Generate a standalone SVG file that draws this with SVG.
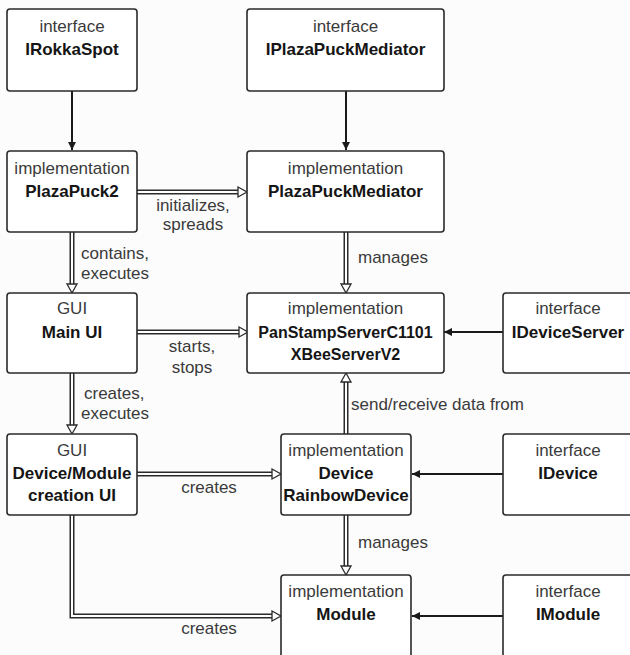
<svg xmlns="http://www.w3.org/2000/svg" width="630" height="655" viewBox="0 0 630 655">
<style>
.box{fill:#fff;stroke:#2a2a2a;stroke-width:1.6}
.t{font-family:"Liberation Sans",Arial,sans-serif;font-size:17px;fill:#3a3a3a;text-anchor:middle}
.b{font-family:"Liberation Sans",Arial,sans-serif;font-size:17px;font-weight:bold;fill:#151515;text-anchor:middle}
.l{font-family:"Liberation Sans",Arial,sans-serif;font-size:17px;fill:#3a3a3a}
.lc{text-anchor:middle}
.outer{fill:none;stroke:#2a2a2a;stroke-width:5}
.inner{fill:none;stroke:#fff;stroke-width:2}
.solid{fill:none;stroke:#1a1a1a;stroke-width:2}
</style>
<defs>
<marker id="hollow" markerUnits="userSpaceOnUse" markerWidth="12" markerHeight="14" viewBox="0 0 12 14" refX="1" refY="7" orient="auto">
<path d="M1,2 L10,7 L1,12 Z" fill="#fff" stroke="#2a2a2a" stroke-width="1.3"/>
</marker>
<marker id="solidhead" markerUnits="userSpaceOnUse" markerWidth="9" markerHeight="9" viewBox="0 0 9 9" refX="8" refY="4.5" orient="auto">
<path d="M0,0.5 L8,4.5 L0,8.5 Z" fill="#1a1a1a"/>
</marker>
</defs>
<rect width="630" height="655" fill="#fcfcfc"/>

<g id="connectors">
<!-- solid interface arrows -->
<path class="solid" d="M72,91 V150" marker-end="url(#solidhead)"/>
<path class="solid" d="M346,91 V150" marker-end="url(#solidhead)"/>
<path class="solid" d="M503,332 H444" marker-end="url(#solidhead)"/>
<path class="solid" d="M503,474 H412" marker-end="url(#solidhead)"/>
<path class="solid" d="M503,616 H412" marker-end="url(#solidhead)"/>
<!-- double arrows -->
<path class="outer" d="M137,192 H238"/><path class="inner" d="M137,192 H238" marker-end="url(#hollow)"/>
<path class="outer" d="M72,232 V284"/><path class="inner" d="M72,232 V284" marker-end="url(#hollow)"/>
<path class="outer" d="M346,232 V284"/><path class="inner" d="M346,232 V284" marker-end="url(#hollow)"/>
<path class="outer" d="M137,332 H239"/><path class="inner" d="M137,332 H239" marker-end="url(#hollow)"/>
<path class="outer" d="M72,373 V425"/><path class="inner" d="M72,373 V425" marker-end="url(#hollow)"/>
<path class="outer" d="M346,434 V382"/><path class="inner" d="M346,434 V382" marker-end="url(#hollow)"/>
<path class="outer" d="M137,474 H272"/><path class="inner" d="M137,474 H272" marker-end="url(#hollow)"/>
<path class="outer" d="M346,515 V566"/><path class="inner" d="M346,515 V566" marker-end="url(#hollow)"/>
<path class="outer" d="M72,515 V616 H272"/><path class="inner" d="M72,515 V616 H272" marker-end="url(#hollow)"/>
<!-- labels -->
<text class="l lc" x="193" y="211">initializes,</text>
<text class="l lc" x="193" y="230">spreads</text>
<text class="l" x="81" y="259">contains,</text>
<text class="l" x="81" y="279">executes</text>
<text class="l" x="358" y="263">manages</text>
<text class="l lc" x="192" y="352">starts,</text>
<text class="l lc" x="192" y="373">stops</text>
<text class="l" x="84" y="399">creates,</text>
<text class="l" x="81" y="419">executes</text>
<text class="l" x="351" y="410">send/receive data from</text>
<text class="l lc" x="209" y="493">creates</text>
<text class="l" x="358" y="548">manages</text>
<text class="l lc" x="209" y="634">creates</text>
</g>

<g id="IRokkaSpot">
<rect class="box" x="7" y="9" width="130" height="82" rx="3"/>
<text class="t" x="72" y="32">interface</text>
<text class="b" x="72" y="55">IRokkaSpot</text>
</g>
<g id="IPlazaPuckMediator">
<rect class="box" x="247" y="9" width="197" height="82" rx="3"/>
<text class="t" x="345.5" y="32">interface</text>
<text class="b" x="345.5" y="55">IPlazaPuckMediator</text>
</g>
<g id="PlazaPuck2">
<rect class="box" x="7" y="151" width="130" height="81" rx="3"/>
<text class="t" x="72" y="174">implementation</text>
<text class="b" x="72" y="197">PlazaPuck2</text>
</g>
<g id="PlazaPuckMediator">
<rect class="box" x="247" y="151" width="197" height="81" rx="3"/>
<text class="t" x="345.5" y="174">implementation</text>
<text class="b" x="345.5" y="197">PlazaPuckMediator</text>
</g>
<g id="MainUI">
<rect class="box" x="7" y="293" width="130" height="80" rx="3"/>
<text class="t" x="72" y="314">GUI</text>
<text class="b" x="72" y="338">Main UI</text>
</g>
<g id="PanStampServer">
<rect class="box" x="247" y="293" width="197" height="80" rx="3"/>
<text class="t" x="345.5" y="314">implementation</text>
<text class="b" x="345.5" y="338" style="font-size:16px">PanStampServerC1101</text>
<text class="b" x="345.5" y="360" style="font-size:16px">XBeeServerV2</text>
</g>
<g id="IDeviceServer">
<rect class="box" x="503" y="293" width="135" height="80" rx="3"/>
<text class="t" x="568" y="314">interface</text>
<text class="b" x="568" y="338">IDeviceServer</text>
</g>
<g id="DeviceModuleCreationUI">
<rect class="box" x="7" y="434" width="130" height="81" rx="3"/>
<text class="t" x="72" y="456">GUI</text>
<text class="b" x="72" y="479">Device/Module</text>
<text class="b" x="72" y="501">creation UI</text>
</g>
<g id="Device">
<rect class="box" x="281" y="434" width="130" height="81" rx="3"/>
<text class="t" x="346" y="456">implementation</text>
<text class="b" x="346" y="479">Device</text>
<text class="b" x="346" y="501">RainbowDevice</text>
</g>
<g id="IDevice">
<rect class="box" x="503" y="434" width="135" height="81" rx="3"/>
<text class="t" x="568" y="456">interface</text>
<text class="b" x="568" y="479">IDevice</text>
</g>
<g id="Module">
<rect class="box" x="281" y="575" width="130" height="85" rx="3"/>
<text class="t" x="346" y="597">implementation</text>
<text class="b" x="346" y="620">Module</text>
</g>
<g id="IModule">
<rect class="box" x="503" y="575" width="135" height="85" rx="3"/>
<text class="t" x="568" y="597">interface</text>
<text class="b" x="568" y="620">IModule</text>
</g>
</svg>
